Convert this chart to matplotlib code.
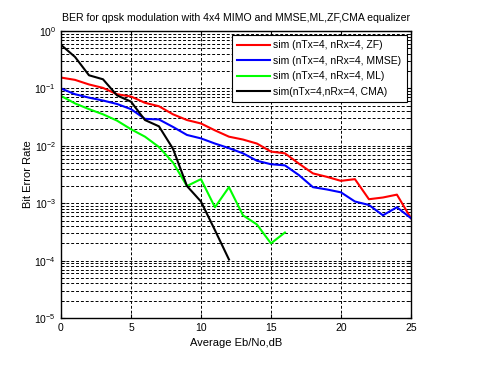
import numpy as np
import matplotlib
matplotlib.use("Agg")
import matplotlib.pyplot as plt
from matplotlib.ticker import LogLocator, NullFormatter

plt.rcParams['font.family'] = ['Liberation Sans', 'DejaVu Sans']

# Eb/No (dB)
x_zf = list(range(0, 26))
ber_zf_log = [-0.81, -0.85, -0.93, -0.99, -1.10, -1.14, -1.25, -1.31, -1.45, -1.55, -1.61,
              -1.73, -1.84, -1.89, -1.96, -2.10, -2.13, -2.31, -2.48, -2.54, -2.61, -2.58,
              -2.93, -2.90, -2.85, -3.26]
x_mmse = list(range(0, 26))
ber_mmse_log = [-1.00, -1.10, -1.16, -1.21, -1.27, -1.36, -1.53, -1.54, -1.67, -1.81, -1.87,
                -1.96, -2.04, -2.13, -2.26, -2.32, -2.34, -2.51, -2.72, -2.76, -2.81, -2.97,
                -3.03, -3.21, -3.07, -3.26]
x_ml = list(range(0, 17))
ber_ml_log = [-1.13, -1.26, -1.36, -1.45, -1.56, -1.71, -1.84, -2.02, -2.29, -2.70, -2.58,
              -3.07, -2.72, -3.21, -3.37, -3.70, -3.51]
x_cma = list(range(0, 13))
ber_cma_log = [-0.24, -0.45, -0.77, -0.84, -1.12, -1.23, -1.55, -1.66, -2.05, -2.70, -2.97,
               -3.47, -3.98]

ber_zf = [10 ** v for v in ber_zf_log]
ber_mmse = [10 ** v for v in ber_mmse_log]
ber_ml = [10 ** v for v in ber_ml_log]
ber_cma = [10 ** v for v in ber_cma_log]

fig = plt.figure(figsize=(4.84, 3.70), dpi=100)
ax = fig.add_axes([0.126, 0.1405, 0.723, 0.7755])

ax.semilogy(x_zf, ber_zf, color='#ff0000', lw=1.5, label='sim (nTx=4, nRx=4, ZF)')
ax.semilogy(x_mmse, ber_mmse, color='#0000ff', lw=1.5, label='sim (nTx=4, nRx=4, MMSE)')
ax.semilogy(x_ml, ber_ml, color='#00ff00', lw=1.5, label='sim (nTx=4, nRx=4, ML)')
ax.semilogy(x_cma, ber_cma, color='#000000', lw=1.5, label='sim(nTx=4,nRx=4, CMA)')

ax.set_xlim(0, 25)
ax.set_ylim(1e-5, 1)
ax.set_xticks([0, 5, 10, 15, 20, 25])
ax.yaxis.set_major_locator(LogLocator(base=10, numticks=10))
ax.yaxis.set_minor_locator(LogLocator(base=10, subs=np.arange(2, 10), numticks=20))
ax.yaxis.set_minor_formatter(NullFormatter())
ax.grid(True, which='major', axis='both', color='black', linestyle=(0, (3, 2)), lw=0.7)
ax.grid(True, which='minor', axis='y', color='black', linestyle=(0, (3, 2)), lw=0.7)
ax.tick_params(which='both', direction='in', top=True, right=True, labelsize=7.5)
ax.tick_params(which='major', length=3)
ax.tick_params(which='minor', length=2)
for s in ax.spines.values():
    s.set_linewidth(1.0)

ax.set_xlabel('Average Eb/No,dB', fontsize=8, labelpad=3.5)
ax.set_ylabel('Bit Error Rate', fontsize=8, labelpad=1)
ax.set_title('BER for qpsk modulation with 4x4 MIMO and MMSE,ML,ZF,CMA equalizer',
             fontsize=7.6, pad=7)

leg = ax.legend(loc='upper right', fontsize=7.5, fancybox=False, framealpha=1,
                edgecolor='black', borderaxespad=0.4, handlelength=3.2, labelspacing=0.52,
                handletextpad=0.3, borderpad=0.5)
leg.get_frame().set_linewidth(0.8)

fig.savefig('out.png', dpi=100)
